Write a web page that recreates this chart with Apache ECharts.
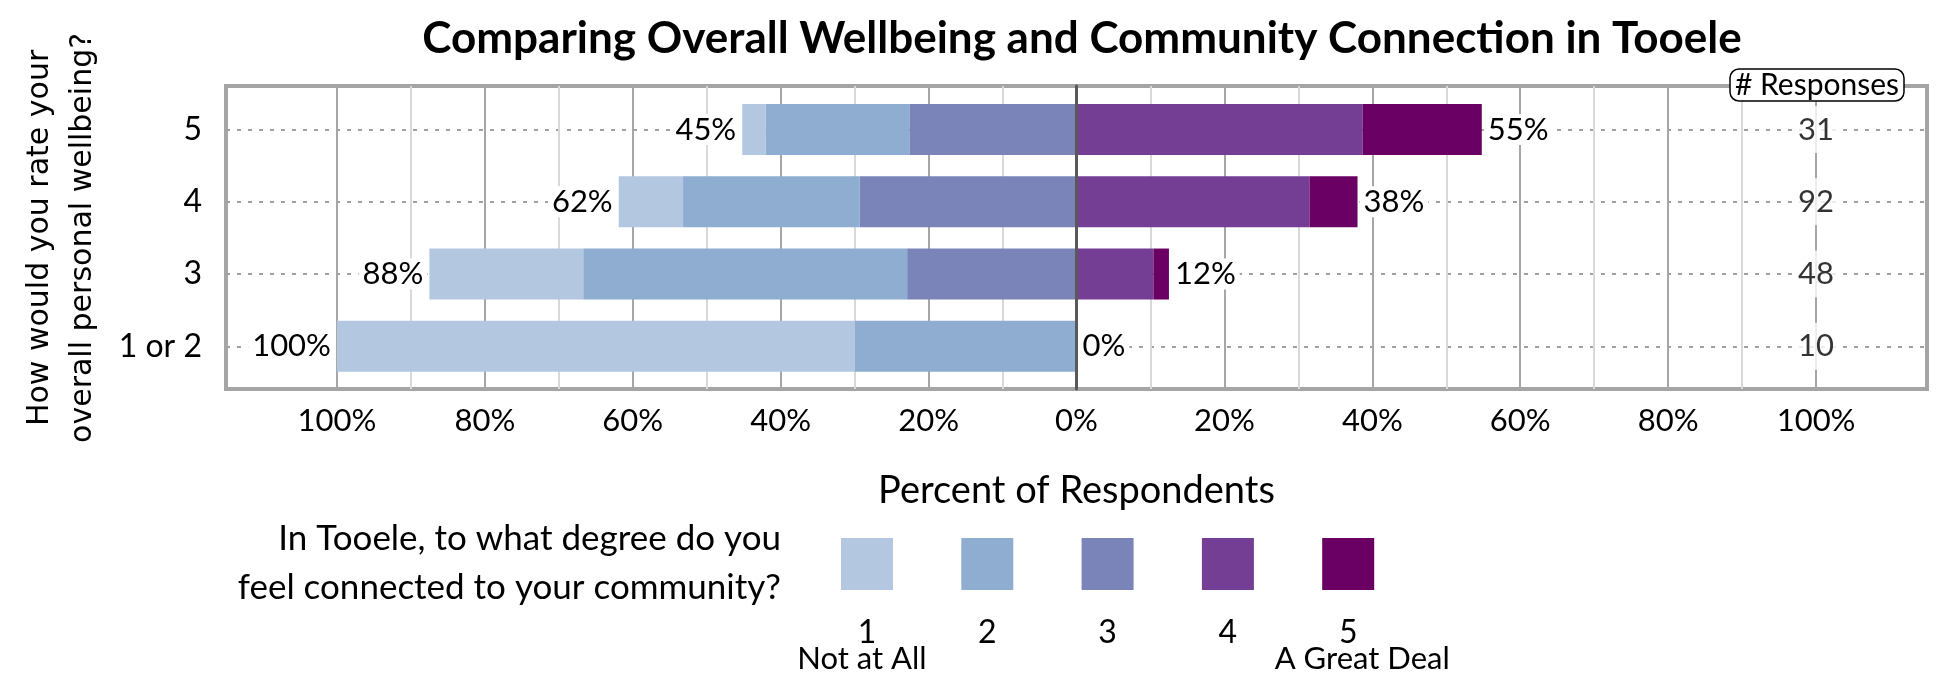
<!DOCTYPE html>
<html><head><meta charset="utf-8">
<script src="https://cdn.jsdelivr.net/npm/echarts@6/dist/echarts.min.js"></script>
<style>html,body{margin:0;padding:0;background:#fff}#c{width:1950px;height:675px}</style>
</head><body><div id="c"></div>
<script>
// ---- data (percent of respondents) ----
const categories = ['1 or 2', '3', '4', '5'];
const seg1 = [70.0, 20.8, 8.7, 3.2];    // 1 - Not at All
const seg2 = [30.0, 43.8, 23.9, 19.4];  // 2
const seg3 = [0.0, 22.9, 29.3, 22.6];   // 3
const seg4 = [0.0, 10.4, 31.5, 38.7];   // 4
const seg5 = [0.0, 2.1, 6.5, 16.1];     // 5 - A Great Deal
const negTotals = [100, 88, 62, 45];
const posTotals = [0, 12, 38, 55];
const responses = [10, 48, 92, 31];
const legendNames = ['1', '2', '3', '4', '5'];
const legendCaptions = ['Not at All', '', '', '', 'A Great Deal'];
const xTickValues = [-100, -80, -60, -40, -20, 0, 20, 40, 60, 80, 100];
const responsesColumnX = 100;

// ---- styling ----
const colors = ['#b3c8e0', '#8eadd1', '#7a84b9', '#743e95', '#6a0064'];
const FONT = 'Lato';
const splitColors = [];
for (let v = -115; v <= 115; v += 5) {
  const inRange = Math.abs(v) <= 100;
  splitColors.push(inRange && v % 20 === 0 ? '#a6a6a6' : (inRange && v % 10 === 0 ? '#d9d9d9' : 'rgba(0,0,0,0)'));
}

const chart = echarts.init(document.getElementById('c'), null, {renderer: 'canvas'});

const labelBase = {fontFamily: FONT, fontSize: 31, color: '#000', backgroundColor: '#fff', padding: [0, 4]};

function barSeries(name, values, color, sign, stack, extra) {
  return Object.assign({
    name: name, type: 'bar', stack: stack, xAxisIndex: 1, yAxisIndex: 1,
    barWidth: 51, barGap: '-100%', clip: false, z: 3,
    itemStyle: {color: color},
    emphasis: {disabled: true},
    data: values.map(v => sign * v)
  }, extra || {});
}

const legendLeft = 836, legendStep = 120.3, swatch = 52;
const graphics = [];
legendNames.forEach((n, i) => {
  const cx = legendLeft + 5 + swatch / 2 + i * legendStep;
  graphics.push({type: 'text', x: cx, y: 633, style: {text: n, fontFamily: FONT, fontSize: 32, fill: '#000', textAlign: 'center', textVerticalAlign: 'middle'}});
  if (legendCaptions[i]) {
    graphics.push({type: 'text', x: cx + (i === 0 ? -5 : 14), y: 659, style: {text: legendCaptions[i], fontFamily: FONT, fontSize: 31, fill: '#000', textAlign: 'center', textVerticalAlign: 'middle'}});
  }
});
graphics.push({type: 'text', x: 781, y: 563, style: {text: 'In Tooele, to what degree do you\nfeel connected to your community?', fontFamily: FONT, fontSize: 35, lineHeight: 49, fill: '#000', textAlign: 'right', textVerticalAlign: 'middle'}});

const option = {
  animation: false,
  backgroundColor: '#fff',
  title: [
    {text: 'Comparing Overall Wellbeing and Community Connection in Tooele', left: 1082, top: 17, textAlign: 'center', padding: 0,
     textStyle: {fontFamily: FONT, fontWeight: 'bold', fontSize: 44, color: '#000'}},
    {text: '# Responses', left: 1812, top: 69, textAlign: 'center', padding: [1, 5, 1, 5],
     borderColor: '#000', borderWidth: 1.5, borderRadius: 9, backgroundColor: '#fff', z: 10,
     textStyle: {fontFamily: FONT, fontWeight: 'normal', fontSize: 30, color: '#000'}}
  ],
  legend: {
    data: legendNames, left: legendLeft, top: 533, orient: 'horizontal',
    itemWidth: swatch, itemHeight: swatch, itemGap: legendStep - swatch, icon: 'rect', selectedMode: false,
    formatter: () => '', textStyle: {fontSize: 1}
  },
  graphic: graphics,
  grid: [
    {left: 226, right: 23, top: 86, bottom: 286, show: true, borderColor: '#a5a5a5', borderWidth: 4, backgroundColor: 'rgba(0,0,0,0)', outerBoundsMode: 'none'},
    {left: 226, right: 23, top: 129.5, bottom: 328.7, outerBoundsMode: 'none'}
  ],
  xAxis: [
    {gridIndex: 0, type: 'value', min: -115, max: 115, interval: 5,
     axisLine: {show: false}, axisTick: {show: false},
     splitLine: {show: true, lineStyle: {color: splitColors, width: 2}},
     axisLabel: {fontFamily: FONT, fontSize: 31, color: '#000', margin: 16,
       formatter: v => xTickValues.indexOf(v) >= 0 ? Math.abs(v) + '%' : ''},
     name: 'Percent of Respondents', nameLocation: 'middle', nameGap: 83,
     nameTextStyle: {fontFamily: FONT, fontSize: 38, color: '#000'}},
    {gridIndex: 1, type: 'value', min: -115, max: 115, show: false}
  ],
  yAxis: [
    {gridIndex: 0, type: 'value', min: 0, max: 1, z: 6,
     axisLabel: {show: false}, axisTick: {show: false}, splitLine: {show: false},
     axisLine: {show: true, onZero: true, lineStyle: {color: '#595959', width: 3}}},
    {gridIndex: 1, type: 'category', data: categories, boundaryGap: false,
     axisLine: {show: false}, axisTick: {show: false},
     axisLabel: {fontFamily: FONT, fontSize: 32, color: '#000', margin: 24},
     splitLine: {show: true, lineStyle: {type: [4, 7], color: '#a0a0a0', width: 2}},
     name: 'How would you rate your\noverall personal wellbeing?', nameLocation: 'middle', nameRotate: 90, nameGap: 121,
     nameTextStyle: {fontFamily: 'DejaVu Sans', fontSize: 30, lineHeight: 43, color: '#000'}}
  ],
  series: [
    barSeries('3', seg3, colors[2], -1, 'neg'),
    barSeries('2', seg2, colors[1], -1, 'neg'),
    barSeries('1', seg1, colors[0], -1, 'neg', {
      label: Object.assign({show: true, position: 'left', distance: 2,
        formatter: p => negTotals[p.dataIndex] + '%'}, labelBase)}),
    barSeries('4', seg4, colors[3], 1, 'pos'),
    barSeries('5', seg5, colors[4], 1, 'pos', {
      label: Object.assign({show: true, position: 'right', distance: 2,
        formatter: p => posTotals[p.dataIndex] + '%'}, labelBase)}),
    {type: 'scatter', xAxisIndex: 1, yAxisIndex: 1, symbolSize: 1, z: 4,
     itemStyle: {color: 'rgba(0,0,0,0)'}, emphasis: {disabled: true},
     data: responses.map((c, i) => [responsesColumnX, categories[i]]),
     label: {show: true, position: 'inside', fontFamily: FONT, fontSize: 31, color: '#000',
       backgroundColor: '#fff', padding: [8, 6],
       formatter: p => String(responses[p.dataIndex])}}
  ]
};
chart.setOption(option);
</script>
</body></html>
